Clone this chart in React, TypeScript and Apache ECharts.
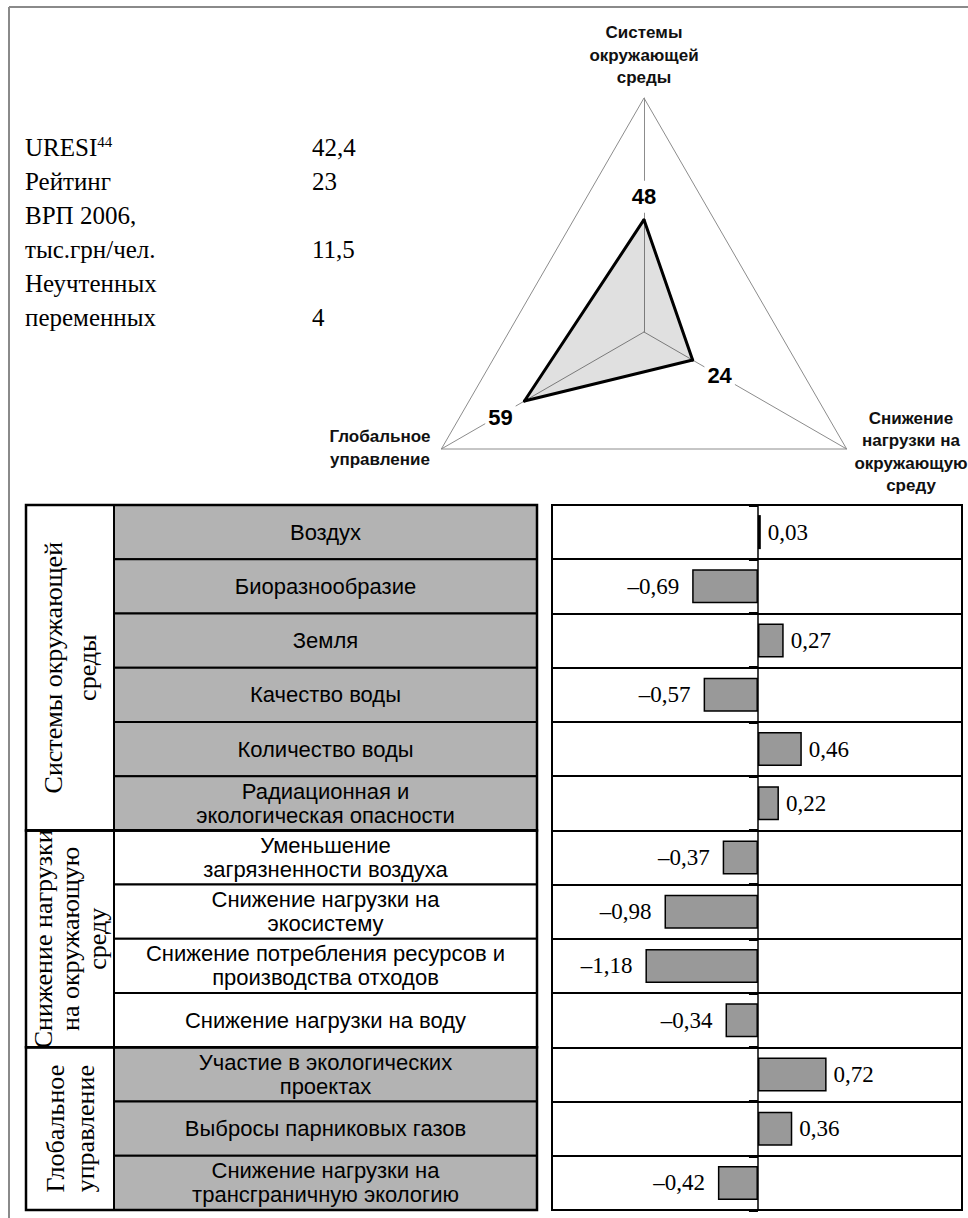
import React, { useEffect, useRef } from "react";
import * as echarts from "echarts";

// ---------- data ----------
const radarIndicators = [
  "Системы\nокружающей\nсреды",
  "Глобальное\nуправление",
  "Снижение\nнагрузки на\nокружающую\nсреду",
];
const radarValues = [48, 59, 24];
const radarMax = 100;

const infoLabels = ["URESI", "Рейтинг", "ВРП 2006,\nтыс.грн/чел.", "Неучтенных\nпеременных"];
const infoValues = ["42,4", "23", "11,5", "4"];
const uresiNote = "44";

const groupNames = ["Системы окружающей\nсреды", "Снижение нагрузки\nна окружающую\nсреду", "Глобальное\nуправление"];
const groupSizes = [6, 4, 3];
const groupShaded = [true, false, true];

const indicators = [
  "Воздух",
  "Биоразнообразие",
  "Земля",
  "Качество воды",
  "Количество воды",
  "Радиационная и\nэкологическая опасности",
  "Уменьшение\nзагрязненности воздуха",
  "Снижение нагрузки на\nэкосистему",
  "Снижение потребления ресурсов и\nпроизводства отходов",
  "Снижение нагрузки на воду",
  "Участие в экологических\nпроектах",
  "Выбросы парниковых газов",
  "Снижение нагрузки на\nтрансграничную экологию",
];
const indicatorValues = [0.03, -0.69, 0.27, -0.57, 0.46, 0.22, -0.37, -0.98, -1.18, -0.34, 0.72, 0.36, -0.42];

// ---------- layout / style ----------
const W = 968;
const H = 1218;
const SERIF = '"Liberation Serif", "Times New Roman", serif';
const SANS = '"Liberation Sans", Arial, sans-serif';
const GRID = { left: 552, top: 505, width: 410, height: 705 };
const COL1 = { x: 26, w: 88 };
const COL2 = { x: 114, w: 423 };
const groupLineHeights = [34, 27, 30];
const radarNamePos = [
  [644, 55],
  [380, 448],
  [911, 452],
];
const radarLabelShift = [
  [0, -23],
  [-24, 16],
  [27, 15],
];

const fmt = (v: number) => (v < 0 ? "–" : "") + Math.abs(v).toFixed(2).replace(".", ",");

function buildGraphic() {
  const g: any[] = [];
  // page frame
  g.push({ type: "line", shape: { x1: 9, y1: 7, x2: 9, y2: H }, style: { stroke: "#8a8a8a", lineWidth: 2 } });
  g.push({ type: "line", shape: { x1: 9, y1: 7, x2: W, y2: 7 }, style: { stroke: "#8a8a8a", lineWidth: 2 } });

  // info block
  let line = 0;
  infoLabels.forEach((lab, i) => {
    const parts = lab.split("\n");
    parts.forEach((p, j) => {
      const y = 147 + 34 * line;
      const isFirst = i === 0 && j === 0;
      g.push({
        type: "text",
        x: 25,
        y,
        style: {
          text: isFirst ? `${p}{sup|${uresiNote}}` : p,
          fontSize: 25,
          fontFamily: SERIF,
          lineHeight: 26,
          fill: "#000",
          align: "left",
          textAlign: "left",
          verticalAlign: "middle",
          textVerticalAlign: "middle",
          rich: isFirst
            ? { sup: { fontSize: 15, fontFamily: SERIF, lineHeight: 15, verticalAlign: "top", fill: "#000" } }
            : undefined,
        },
      });
      if (j === parts.length - 1) {
        g.push({
          type: "text",
          x: 312,
          y,
          style: {
            text: infoValues[i],
            fontSize: 25,
            fontFamily: SERIF,
            fill: "#000",
            align: "left",
            textAlign: "left",
            verticalAlign: "middle",
            textVerticalAlign: "middle",
          },
        });
      }
      line++;
    });
  });

  // radar axis names
  radarIndicators.forEach((n, i) => {
    g.push({
      type: "text",
      x: radarNamePos[i][0],
      y: radarNamePos[i][1],
      style: {
        text: n,
        fontSize: 17,
        fontWeight: "bold",
        fontFamily: SANS,
        lineHeight: 22.5,
        fill: "#111",
        align: "center",
        textAlign: "center",
        verticalAlign: "middle",
        textVerticalAlign: "middle",
      },
    });
  });

  // table
  const rowH = GRID.height / indicators.length;
  let r = 0;
  groupNames.forEach((gn, gi) => {
    const n = groupSizes[gi];
    const y0 = GRID.top + r * rowH;
    const h = n * rowH;
    for (let k = 0; k < n; k++) {
      const idx = r + k;
      const yy = GRID.top + idx * rowH;
      g.push({
        type: "rect",
        shape: { x: COL2.x, y: yy, width: COL2.w, height: rowH },
        style: { fill: groupShaded[gi] ? "#b3b3b3" : "#ffffff", stroke: "#000", lineWidth: 2 },
      });
      g.push({
        type: "text",
        x: COL2.x + COL2.w / 2,
        y: yy + rowH / 2,
        z: 10,
        style: {
          text: indicators[idx],
          fontSize: 22,
          fontFamily: SANS,
          lineHeight: 24,
          fill: "#000",
          align: "center",
          textAlign: "center",
          verticalAlign: "middle",
          textVerticalAlign: "middle",
        },
      });
    }
    g.push({
      type: "rect",
      shape: { x: COL1.x, y: y0, width: COL1.w, height: h },
      style: { fill: "#ffffff", stroke: "#000", lineWidth: 2 },
    });
    g.push({
      type: "rect",
      z: 5,
      shape: { x: COL1.x, y: y0, width: COL1.w + COL2.w, height: h },
      style: { fill: "none", stroke: "#000", lineWidth: 2.5 },
    });
    g.push({
      type: "text",
      x: COL1.x + COL1.w / 2,
      y: y0 + h / 2,
      rotation: Math.PI / 2,
      z: 10,
      style: {
        text: gn,
        fontSize: 26,
        fontFamily: SERIF,
        lineHeight: groupLineHeights[gi],
        fill: "#000",
        align: "center",
        textAlign: "center",
        verticalAlign: "middle",
        textVerticalAlign: "middle",
      },
    });
    r += n;
  });
  return g;
}

function buildRadarRich() {
  const rich: any = {
    v: {
      fontSize: 22,
      fontWeight: "bold",
      fontFamily: SANS,
      color: "#000",
      backgroundColor: "#fff",
      padding: [5, 3],
    },
  };
  radarLabelShift.forEach(([dx, dy], d) => {
    rich["w" + d] = { width: Math.abs(dx) * 2, fontSize: 4, lineHeight: 4 };
    rich["h" + d] = { height: Math.abs(dy) * 2, lineHeight: Math.abs(dy) * 2, fontSize: 4 };
  });
  return rich;
}

function radarLabelFormatter(p: any) {
  const d = p.dimensionIndex ?? 0;
  const val = Array.isArray(p.value) ? p.value[d] : p.value;
  const [dx, dy] = radarLabelShift[d] || [0, 0];
  let l = `{v|${val}}`;
  if (dx > 0) l = `{w${d}| }` + l;
  else if (dx < 0) l = l + `{w${d}| }`;
  if (dy > 0) return `{h${d}| }\n` + l;
  if (dy < 0) return l + `\n{h${d}| }`;
  return l;
}

const option: any = {
  animation: false,
  backgroundColor: "#ffffff",
  radar: {
    center: [644, 332],
    radius: 234,
    startAngle: 90,
    splitNumber: 1,
    shape: "polygon",
    indicator: radarIndicators.map((n) => ({ name: n, min: 0, max: radarMax })),
    axisName: { show: false },
    axisLine: { lineStyle: { color: "#8c8c8c", width: 1 } },
    splitLine: { lineStyle: { color: "#8c8c8c", width: 1 } },
    splitArea: { show: false },
    axisTick: { show: false },
    axisLabel: { show: false },
  },
  grid: {
    left: GRID.left,
    top: GRID.top,
    width: GRID.width,
    height: GRID.height,
    show: true,
    borderColor: "#000",
    borderWidth: 2,
    backgroundColor: "transparent",
  },
  xAxis: { type: "value", min: -2.16, max: 2.14, show: false, splitLine: { show: false } },
  yAxis: {
    type: "category",
    data: indicators,
    inverse: true,
    axisLine: { show: true, onZero: true, lineStyle: { color: "#000", width: 1.5 } },
    axisTick: { show: true, length: 9, interval: 0, lineStyle: { color: "#000", width: 3 } },
    axisLabel: { show: false },
    splitLine: { show: true, interval: 0, lineStyle: { color: "#000", width: 2 } },
  },
  series: [
    {
      type: "radar",
      symbol: "circle",
      symbolSize: 3,
      itemStyle: { color: "#000" },
      lineStyle: { color: "#000", width: 3 },
      areaStyle: { color: "#000", opacity: 0.12 },
      label: {
        show: true,
        position: "inside",
        formatter: radarLabelFormatter,
        rich: buildRadarRich(),
      },
      data: [{ value: radarValues }],
    },
    {
      type: "bar",
      barWidth: 34,
      itemStyle: { color: "#999999", borderColor: "#000", borderWidth: 1.5 },
      label: {
        show: true,
        color: "#000",
        fontFamily: SERIF,
        fontSize: 23,
        formatter: (p: any) => fmt(p.value),
      },
      data: indicatorValues.map((v) => ({
        value: v,
        label: { position: v >= 0 ? "right" : "left", distance: v >= 0 ? 7 : 13 },
      })),
    },
  ],
  graphic: buildGraphic(),
};

export default function App() {
  const ref = useRef<HTMLDivElement>(null);
  useEffect(() => {
    if (!ref.current) return;
    const chart = echarts.init(ref.current, null, { renderer: "svg" });
    chart.setOption(option);
    return () => chart.dispose();
  }, []);
  return (
    <div
      ref={ref}
      style={{ position: "absolute", left: 0, top: 0, width: W, height: H, background: "#fff" }}
    />
  );
}
